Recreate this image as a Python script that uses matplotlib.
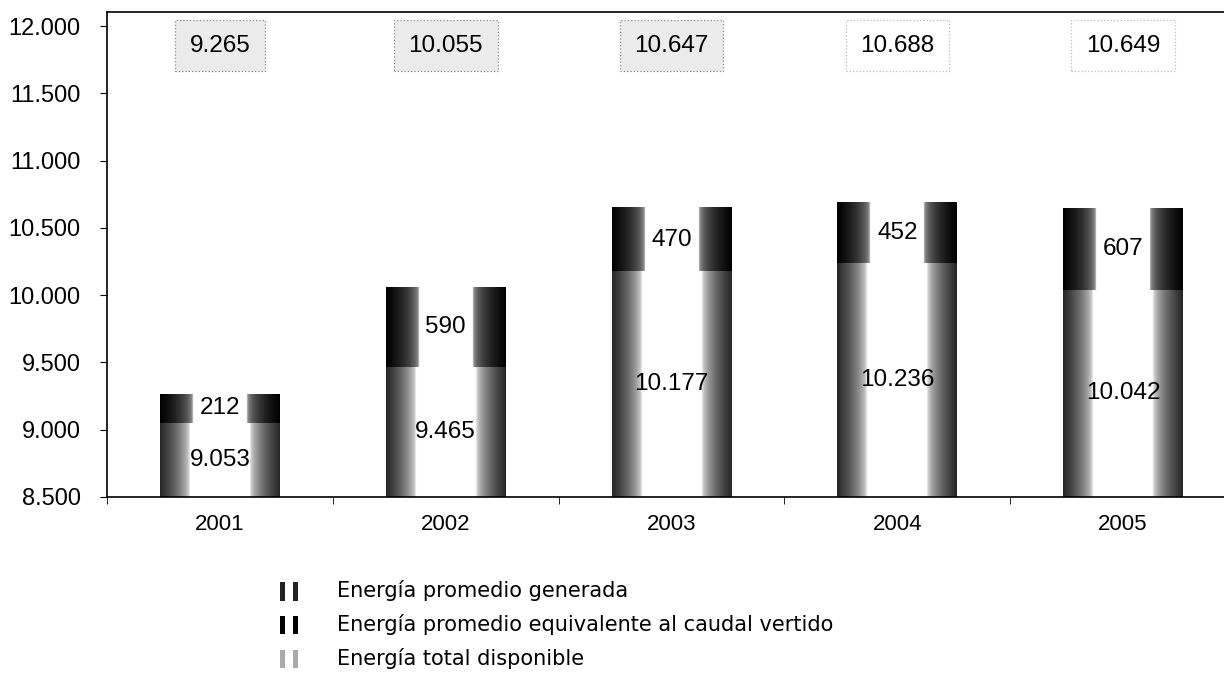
import matplotlib
matplotlib.use('Agg')
import matplotlib.pyplot as plt
import numpy as np
from matplotlib.patches import Rectangle, Patch
from matplotlib.legend_handler import HandlerBase

years = ['2001', '2002', '2003', '2004', '2005']
generada = [9053, 9465, 10177, 10236, 10042]
vertida = [212, 590, 470, 452, 607]
total = [9265, 10055, 10647, 10688, 10649]

legend_labels = ['Energía promedio generada',
                 'Energía promedio equivalente al caudal vertido',
                 'Energía total disponible']


def fmt(v):
    return f'{v:,}'.replace(',', '.')


def gradient(edge_rgb, white_frac, power, n=200):
    # horizontal gradient: dark at both edges, white in the middle
    t = np.abs(np.linspace(-1, 1, n))
    k = np.clip((t - white_frac) / (1 - white_frac), 0, 1) ** power
    edge = np.array(edge_rgb)
    img = (1 - k)[:, None] * np.ones(3) + k[:, None] * edge
    return img[None, :, :]


class TwinBarHandler(HandlerBase):
    def __init__(self, color):
        super().__init__()
        self.color = color

    def create_artists(self, legend, orig_handle, xdescent, ydescent,
                       width, height, fontsize, trans):
        w = width * 0.28
        h = height * 1.15
        r1 = Rectangle((-xdescent, -ydescent - 2), w, h, facecolor=self.color,
                       edgecolor='none', transform=trans)
        r2 = Rectangle((-xdescent + width - w, -ydescent - 2), w, h,
                       facecolor=self.color, edgecolor='none', transform=trans)
        return [r1, r2]


fig = plt.figure(figsize=(12.24, 6.76), dpi=100)
ax = fig.add_axes([107 / 1224, 179 / 676, (1236 - 107) / 1224, 485 / 676])

x = np.arange(len(years))
width = 0.53
ymin, ymax = 8500, 12105

gen_img = gradient((0.15, 0.15, 0.15), 0.5, 0.5)
ver_img = gradient((0.0, 0.0, 0.0), 0.45, 0.25)

for i in range(len(years)):
    x0, x1 = x[i] - width / 2, x[i] + width / 2
    ax.imshow(gen_img, extent=[x0, x1, ymin, generada[i]], aspect='auto',
              interpolation='bilinear', zorder=2)
    ax.imshow(ver_img, extent=[x0, x1, generada[i], total[i]], aspect='auto',
              interpolation='bilinear', zorder=2)
    ax.text(x[i], (ymin + generada[i]) / 2, fmt(generada[i]), ha='center',
            va='center', fontsize=17.5, family='Liberation Sans', zorder=4)
    ax.text(x[i], generada[i] + vertida[i] / 2, fmt(vertida[i]), ha='center',
            va='center', fontsize=17.5, family='Liberation Sans', zorder=4)
    ax.text(x[i], 11855, fmt(total[i]), ha='center', va='center',
            fontsize=17.5, family='Liberation Sans', zorder=4,
            bbox=dict(facecolor='#ebebeb' if i < 3 else 'white',
                      edgecolor='#888888' if i < 3 else '#bbbbbb',
                      linestyle=':', linewidth=0.9,
                      boxstyle='square,pad=0.6'))

ax.set_xlim(-0.5, len(years) - 0.5)
ax.set_ylim(ymin, ymax)
ax.set_yticks(np.arange(8500, 12001, 500))
ax.set_yticklabels([fmt(v) for v in np.arange(8500, 12001, 500)],
                   family='Liberation Sans', fontsize=17)
ax.set_xticks(x)
ax.set_xticklabels(years, family='Liberation Sans', fontsize=16)
ax.set_xticks(np.arange(-0.5, len(years)), minor=True)
ax.tick_params(axis='x', which='major', length=0, pad=12)
ax.tick_params(axis='x', which='minor', length=5, direction='out')
ax.tick_params(axis='y', length=5, direction='out', pad=14)
for s in ax.spines.values():
    s.set_linewidth(1.2)
    s.set_color('black')

handles = [Patch(), Patch(), Patch()]
fig.legend(handles, legend_labels, loc='upper left',
           bbox_to_anchor=(280 / 1224, 1 - 580 / 676), frameon=False,
           prop={'family': 'DejaVu Sans', 'size': 15},
           handlelength=0.85, handleheight=0.8, handletextpad=1.9,
           labelspacing=0.62, borderpad=0, borderaxespad=0,
           handler_map={handles[0]: TwinBarHandler('#222222'),
                        handles[1]: TwinBarHandler('black'),
                        handles[2]: TwinBarHandler('#aaaaaa')})

fig.savefig('out.png', dpi=100)
